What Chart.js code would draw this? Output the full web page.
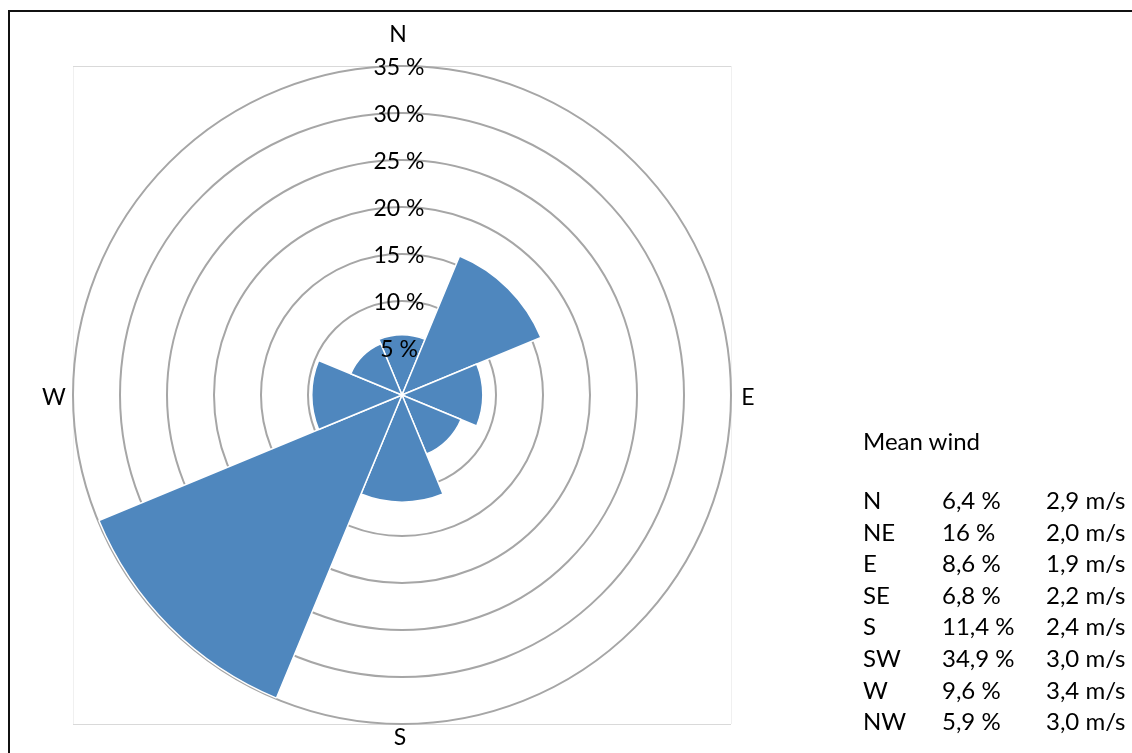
<!DOCTYPE html>
<html>
<head>
<meta charset="utf-8">
<script src="https://cdn.jsdelivr.net/npm/chart.js@4/dist/chart.umd.min.js"></script>
<style>
  html, body { margin: 0; padding: 0; background: #fff; }
  #wrap { position: relative; width: 1132px; height: 753px; overflow: hidden; font-family: Lato, "Open Sans", sans-serif; color: #000; }
  #frame { position: absolute; left: 8px; top: 10px; width: 1200px; height: 800px; border-top: 2px solid #111; border-left: 2px solid #111; box-sizing: border-box; }
  canvas { position: absolute; left: 0; top: 0; }
  .lg { position: absolute; font-size: 24px; line-height: 32px; white-space: nowrap; }
</style>
</head>
<body>
<div id="wrap">
  <div id="frame"></div>
  <canvas id="c" width="1132" height="753"></canvas>
  <div id="legend"></div>
</div>
<script>
// ---- data ----
const directions = ['N', 'NE', 'E', 'SE', 'S', 'SW', 'W', 'NW'];
const frequency = [6.4, 16, 8.6, 6.8, 11.4, 34.9, 9.6, 5.9];
const frequencyLabels = ['6,4 %', '16 %', '8,6 %', '6,8 %', '11,4 %', '34,9 %', '9,6 %', '5,9 %'];
const meanSpeedLabels = ['2,9 m/s', '2,0 m/s', '1,9 m/s', '2,2 m/s', '2,4 m/s', '3,0 m/s', '3,4 m/s', '3,0 m/s'];
const compassLabels = ['N', 'E', 'S', 'W'];
const legendTitle = 'Mean wind';

// ---- legend (HTML text) ----
const legend = document.getElementById('legend');
function addText(txt, x, y) {
  const s = document.createElement('span');
  s.className = 'lg';
  s.textContent = txt;
  s.style.left = x + 'px';
  s.style.top = y + 'px';
  legend.appendChild(s);
}
addText(legendTitle, 863, 425);
directions.forEach((d, i) => {
  const y = 484 + i * 31.6;
  addText(d, 863, y);
  addText(frequencyLabels[i], 942, y);
  addText(meanSpeedLabels[i], 1046, y);
});

const FONT = 'Lato, "Open Sans", sans-serif';

// ---- plugin: plot frame, tick labels (unrotated) + compass labels ----
const decor = {
  id: 'decor',
  beforeDraw(chart) {
    const s = chart.scales.r;
    const ctx = chart.ctx;
    const r = s.drawingArea;
    const x0 = s.xCenter - r, y0 = s.yCenter - r;
    ctx.save();
    ctx.lineWidth = 1;
    ctx.strokeStyle = '#f0f0f0';
    ctx.beginPath();
    ctx.moveTo(x0 + 0.5, y0); ctx.lineTo(x0 + 0.5, y0 + 2 * r);
    ctx.moveTo(x0 + 2 * r + 0.5, y0); ctx.lineTo(x0 + 2 * r + 0.5, y0 + 2 * r);
    ctx.stroke();
    ctx.strokeStyle = '#d9d9d9';
    ctx.beginPath();
    ctx.moveTo(x0, y0 + 0.5); ctx.lineTo(x0 + 2 * r, y0 + 0.5);
    ctx.moveTo(x0, y0 + 2 * r + 0.5); ctx.lineTo(x0 + 2 * r, y0 + 2 * r + 0.5);
    ctx.stroke();
    ctx.restore();
  },
  afterDraw(chart) {
    const s = chart.scales.r;
    const ctx = chart.ctx;
    const r = s.drawingArea;
    ctx.save();
    ctx.fillStyle = '#000';
    ctx.textAlign = 'center';
    ctx.textBaseline = 'middle';
    // radial tick labels along the vertical axis
    ctx.font = '23px ' + FONT;
    s.ticks.forEach((t, i) => {
      if (i === 0) return;
      const d = s.getDistanceFromCenterForValue(t.value);
      ctx.fillText(t.label, s.xCenter - 3, s.yCenter - d + 2);
    });
    // compass labels
    ctx.font = '23px ' + FONT;
    const pos = [
      [s.xCenter - 4, s.yCenter - r - 31],
      [s.xCenter + r + 17, s.yCenter + 3],
      [s.xCenter - 2, s.yCenter + r + 14],
      [s.xCenter - r - 19, s.yCenter + 3]
    ];
    compassLabels.forEach((t, i) => ctx.fillText(t, pos[i][0], pos[i][1]));
    ctx.restore();
  }
};

new Chart(document.getElementById('c'), {
  type: 'polarArea',
  data: {
    labels: directions,
    datasets: [{
      data: frequency,
      backgroundColor: '#4F87BE',
      borderColor: '#ffffff',
      borderWidth: 1.5
    }]
  },
  options: {
    responsive: false,
    animation: false,
    layout: { padding: { left: 62, top: 55, right: 390, bottom: 18 } },
    plugins: { legend: { display: false }, tooltip: { enabled: false } },
    scales: {
      r: {
        startAngle: -22.5,
        min: 0,
        max: 35,
        ticks: {
          stepSize: 5,
          display: true,
          showLabelBackdrop: false,
          backdropPadding: 0,
          color: 'rgba(0,0,0,0)',
          font: { family: FONT, size: 22 },
          callback: v => v + ' %'
        },
        grid: { circular: true, color: '#a6a6a6', lineWidth: 2 },
        angleLines: { display: false },
        pointLabels: { display: false }
      }
    }
  },
  plugins: [decor]
});
</script>
</body>
</html>
